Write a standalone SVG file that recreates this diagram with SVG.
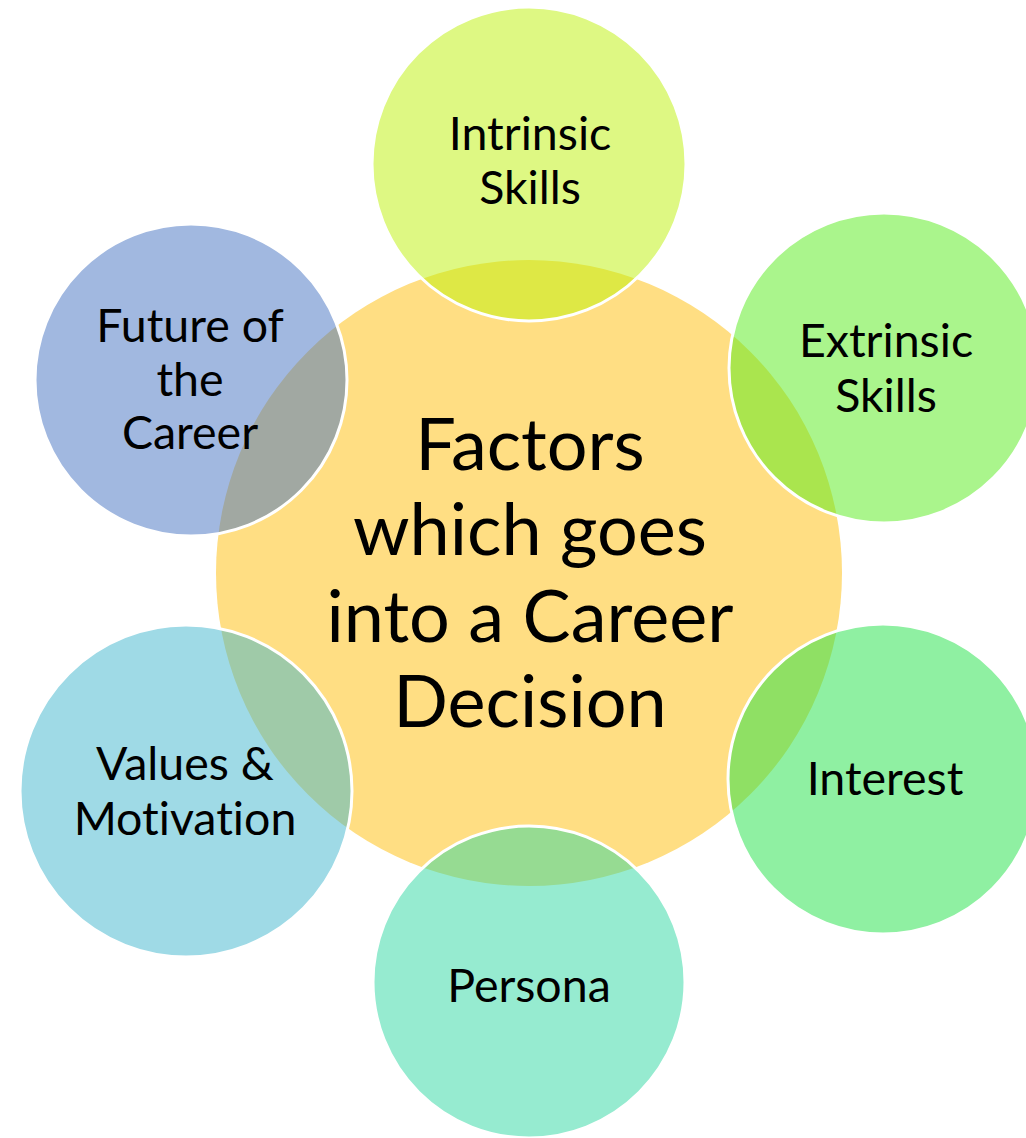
<svg xmlns="http://www.w3.org/2000/svg" width="1026" height="1138" viewBox="0 0 1026 1138">
<style>
  .bg { fill: #ffffff; }
  .center { fill: #FFDE83; }
  .outer { fill-opacity: 0.5; stroke: #ffffff; stroke-width: 3; }
  .lbl { font-family: Lato, "Open Sans", "Liberation Sans", sans-serif; font-size: 46.5px; fill: #000000; text-anchor: middle; font-variant-ligatures: none; }
  .big { font-family: Lato, "Open Sans", "Liberation Sans", sans-serif; font-size: 72px; fill: #000000; text-anchor: middle; font-variant-ligatures: none; }
</style>
<rect class="bg" x="0" y="0" width="1026" height="1138"/>
<g id="node-center">
  <circle class="center" cx="529" cy="573" r="313"/>
  <text class="big" x="530" y="470">Factors</text>
  <text class="big" x="530" y="555">which goes</text>
  <text class="big" x="530" y="642">into a Career</text>
  <text class="big" x="530" y="727">Decision</text>
</g>
<g id="connectors"></g>
<g id="node-intrinsic">
  <circle class="outer" fill="#BDF107" cx="529" cy="164" r="157"/>
  <text class="lbl" x="530" y="150">Intrinsic</text>
  <text class="lbl" x="530" y="204">Skills</text>
</g>
<g id="node-extrinsic">
  <circle class="outer" fill="#55EB19" cx="884" cy="368" r="155"/>
  <text class="lbl" x="886" y="357">Extrinsic</text>
  <text class="lbl" x="886" y="412">Skills</text>
</g>
<g id="node-interest">
  <circle class="outer" fill="#1FE145" cx="883" cy="779" r="155"/>
  <text class="lbl" x="885" y="795">Interest</text>
</g>
<g id="node-persona">
  <circle class="outer" fill="#2DD7A1" cx="529" cy="982" r="156"/>
  <text class="lbl" x="529" y="1002">Persona</text>
</g>
<g id="node-values">
  <circle class="outer" fill="#3FB5CD" cx="186" cy="791" r="166"/>
  <text class="lbl" x="185" y="780">Values &amp;</text>
  <text class="lbl" x="185" y="835">Motivation</text>
</g>
<g id="node-future">
  <circle class="outer" fill="#4371C1" cx="191" cy="380" r="156"/>
  <text class="lbl" x="190" y="342">Future of</text>
  <text class="lbl" x="190" y="396">the</text>
  <text class="lbl" x="190" y="449">Career</text>
</g>
</svg>
